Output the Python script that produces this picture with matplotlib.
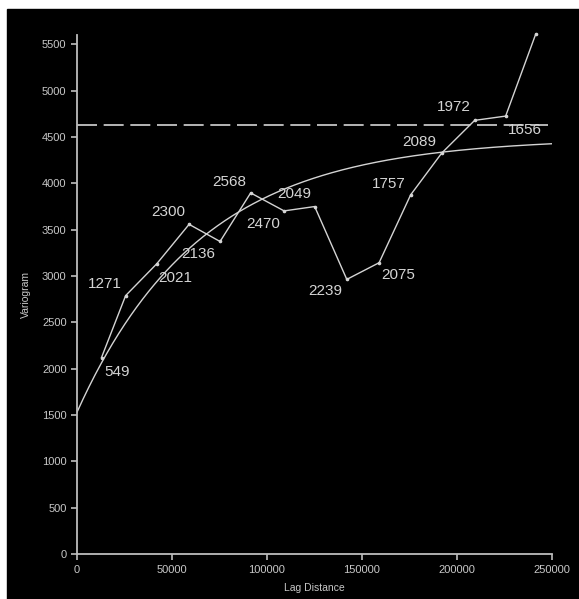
import numpy as np
import matplotlib
matplotlib.use("Agg")
import matplotlib.pyplot as plt
from matplotlib.patches import Rectangle

lag = [12900, 25600, 42000, 59000, 75300, 91400, 109000, 125100,
       142000, 159000, 175600, 192000, 209300, 225600, 241400]
gamma = [2120, 2788, 3132, 3557, 3372, 3896, 3702, 3749,
         2963, 3143, 3875, 4327, 4679, 4725, 5608]
pairs = ["549", "1271", "2021", "2300", "2136", "2568", "2470", "2049",
         "2239", "2075", "1757", "2089", "1972", "1656", None]

# fitted exponential model + sample variance
nugget = 1530
partial_sill = 2960
range_par = 65000
variance = 4630

# label placement (pixels from the point)
offsets = [(16, -14), (-21, 12), (18, -14), (-21, 12), (-22, -13), (-21, 11),
           (-21, -13), (-20, 13), (-22, -12), (19, -12), (-22, 11), (-23, 11),
           (-21, 13), (19, -14), (0, 0)]

fg = "#d4d4d4"
plt.rcParams['font.family'] = ['Liberation Sans', 'DejaVu Sans']
plt.rcParams['lines.scale_dashes'] = False

fig = plt.figure(figsize=(5.79, 5.99), dpi=100)
fig.patch.set_facecolor("white")
bg = Rectangle((7/579, 0), 1 - 7/579, 1 - 9/599,
               transform=fig.transFigure, color="black", zorder=-10)
fig.add_artist(bg)

ax = fig.add_axes([77/579, 45/599, 475/579, 519/599])
ax.set_zorder(5)
ax.set_facecolor("black")

h = np.linspace(0, 250000, 400)
model = nugget + partial_sill * (1 - np.exp(-h / range_par))
ax.plot(h, model, color=fg, lw=1.0)

ax.hlines(variance, 0, 248000, color=fg, lw=1.2, linestyles=[(0, (14.4, 4.8))])

ax.plot(lag, gamma, color=fg, lw=1.0, marker="o", ms=1.6, clip_on=False)

for x, y, t, off in zip(lag, gamma, pairs, offsets):
    if t is None:
        continue
    ax.annotate(t, (x, y), xytext=off, textcoords="offset pixels",
                ha="center", va="center", color=fg, fontsize=11)

ax.set_xlim(0, 250000)
ax.set_ylim(0, 5600)
ax.set_xticks(range(0, 250001, 50000))
ax.set_yticks(range(0, 5501, 500))

for s in ["top", "right"]:
    ax.spines[s].set_visible(False)
for s in ["left", "bottom"]:
    ax.spines[s].set_color("#bdbdbd")
    ax.spines[s].set_linewidth(1.3)

ax.tick_params(colors="#bdbdbd", labelcolor="#c8c8c8", labelsize=8,
               length=4, width=1.2)
ax.tick_params(axis="x", pad=4)

ax.set_xlabel("Lag Distance", color="#c8c8c8", fontsize=7.5, labelpad=6)
ax.set_ylabel("Variogram", color="#c8c8c8", fontsize=7.5, labelpad=8)

fig.savefig("out.png", dpi=100, facecolor=fig.get_facecolor())
